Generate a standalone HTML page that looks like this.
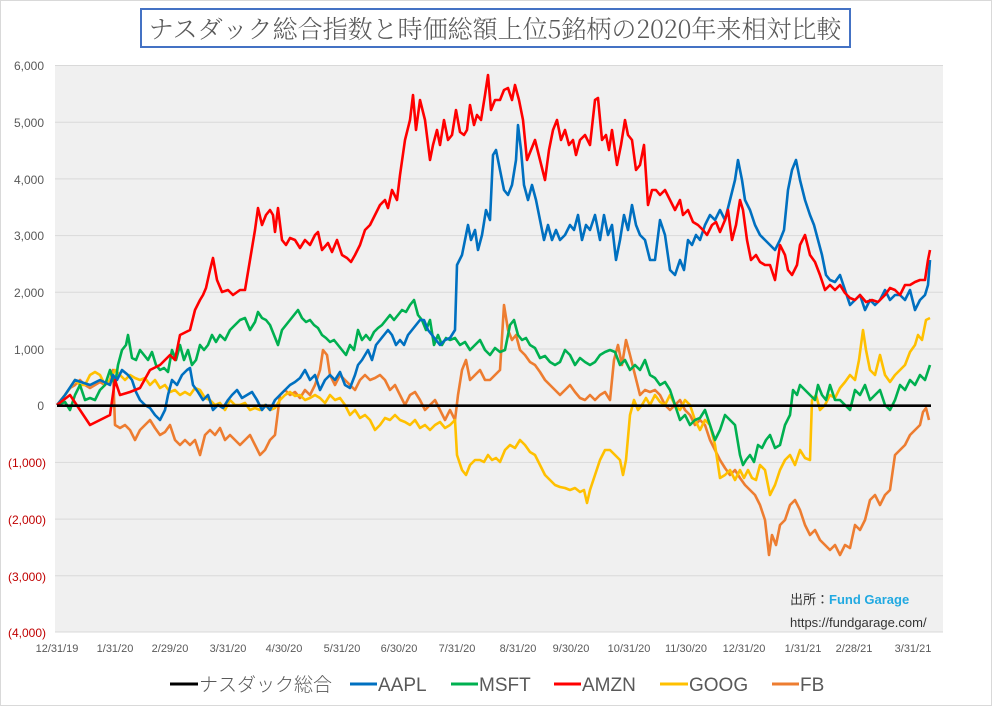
<!DOCTYPE html>
<html><head><meta charset="utf-8"><style>
body{margin:0;background:#fff;}
svg text{font-family:"Liberation Sans","Noto Sans CJK JP",sans-serif;}
</style></head><body>
<svg width="992" height="706" viewBox="0 0 992 706" xmlns="http://www.w3.org/2000/svg">
<rect x="0.5" y="0.5" width="991" height="705" fill="#fff" stroke="#d9d9d9"/>
<rect x="141" y="9" width="709" height="38" fill="#fff" stroke="#4472c4" stroke-width="2"/>
<text x="495" y="38" text-anchor="middle" font-size="25" fill="#595959" style="font-family:'Noto Serif CJK SC','Liberation Serif',serif;font-weight:300">ナスダック総合指数と時価総額上位5銘柄の2020年来相対比較</text>
<rect x="55" y="65" width="888" height="567" fill="#f0f0f0"/>
<g stroke="#d9d9d9" stroke-width="1">
<line x1="55" x2="943" y1="65.5" y2="65.5"/><line x1="55" x2="943" y1="122.2" y2="122.2"/><line x1="55" x2="943" y1="178.9" y2="178.9"/><line x1="55" x2="943" y1="235.6" y2="235.6"/><line x1="55" x2="943" y1="292.3" y2="292.3"/><line x1="55" x2="943" y1="349" y2="349"/><line x1="55" x2="943" y1="462.4" y2="462.4"/><line x1="55" x2="943" y1="519.1" y2="519.1"/><line x1="55" x2="943" y1="575.8" y2="575.8"/><line x1="55" x2="943" y1="632" y2="632"/>
</g>
<g font-size="12" fill="#595959" text-anchor="end">
<text x="44" y="70">6,000</text><text x="44" y="127">5,000</text><text x="44" y="184">4,000</text><text x="44" y="240">3,000</text><text x="44" y="297">2,000</text><text x="44" y="354">1,000</text><text x="44" y="410">0</text>
</g>
<g font-size="12" fill="#c00000" text-anchor="end">
<text x="46" y="467">(1,000)</text><text x="46" y="524">(2,000)</text><text x="46" y="581">(3,000)</text><text x="46" y="637">(4,000)</text>
</g>
<g font-size="11" fill="#595959" text-anchor="middle">
<text x="57" y="652">12/31/19</text><text x="115" y="652">1/31/20</text><text x="170" y="652">2/29/20</text><text x="228" y="652">3/31/20</text><text x="284" y="652">4/30/20</text><text x="342" y="652">5/31/20</text><text x="399" y="652">6/30/20</text><text x="457" y="652">7/31/20</text><text x="518" y="652">8/31/20</text><text x="571" y="652">9/30/20</text><text x="629" y="652">10/31/20</text><text x="686" y="652">11/30/20</text><text x="744" y="652">12/31/20</text><text x="803" y="652">1/31/21</text><text x="854" y="652">2/28/21</text><text x="913" y="652">3/31/21</text>
</g>
<g fill="none" stroke-width="2.6" stroke-linejoin="round">
<polyline stroke="#ed7d31" points="57,405 65,395 70,388 75,385 80,380 85,385 90,388 95,385 100,382 105,385 110,380 113,370 115,425 120,428 125,425 130,430 135,440 140,430 145,425 150,420 155,428 160,435 165,432 170,425 175,440 180,445 185,440 190,445 195,440 200,455 205,435 210,430 215,435 220,428 225,440 230,435 235,440 240,445 245,440 250,435 255,445 260,455 265,450 270,440 275,435 280,395 285,390 290,395 295,392 300,398 305,390 310,395 315,385 320,370 323,350 327,355 330,375 335,385 340,375 345,380 350,385 355,390 360,380 365,375 370,380 375,378 380,375 385,380 390,390 395,385 400,395 405,405 410,395 415,392 420,400 425,410 430,405 435,400 440,410 445,420 450,410 455,420 458,395 462,370 466,360 470,380 475,375 480,370 485,380 490,380 495,375 500,370 504,305 508,330 512,340 516,335 520,350 525,355 530,362 535,365 540,372 545,380 550,385 555,390 560,395 565,390 570,385 575,392 580,398 585,400 590,395 595,400 600,395 605,392 610,400 614,360 618,345 622,365 626,340 630,355 635,375 640,395 645,390 650,392 655,390 660,395 665,405 670,410 675,405 680,400 685,410 690,415 695,425 700,420 705,425 710,440 715,450 720,460 725,468 730,475 735,470 740,478 745,485 750,490 755,495 760,505 765,520 769,555 772,535 776,545 780,525 785,520 790,505 795,500 800,510 805,525 810,535 815,530 820,540 825,545 830,550 835,545 840,555 845,545 850,548 855,525 860,530 865,520 870,500 875,495 880,505 885,495 890,490 895,455 900,450 905,445 910,435 915,430 920,425 923,412 926,408 929,420"/>
<polyline stroke="#ffc000" points="57,405 65,395 70,388 75,380 80,385 85,385 90,375 95,372 100,375 105,385 110,380 115,370 120,375 125,380 130,375 135,378 140,380 145,378 150,385 155,380 160,388 165,385 170,392 175,390 180,395 185,392 190,395 195,388 200,390 205,398 210,400 215,405 220,403 225,410 230,400 235,405 240,405 245,403 250,410 255,408 260,410 265,405 270,410 275,408 280,400 285,395 290,392 295,396 300,395 305,400 310,398 315,395 320,398 325,403 330,395 335,400 340,398 345,405 350,415 355,410 360,418 365,415 370,420 375,430 380,425 385,418 390,420 395,415 400,420 405,422 410,425 415,420 420,428 425,425 430,430 435,425 440,422 445,428 450,425 455,420 457,455 462,470 466,475 470,465 475,460 480,460 484,462 488,455 492,460 496,458 500,462 505,450 510,445 515,448 520,440 525,445 530,452 535,455 540,465 545,475 550,480 555,485 560,487 565,488 570,490 575,488 580,492 584,490 587,503 590,490 595,475 600,460 605,450 610,450 615,455 620,460 623,475 626,460 630,415 634,400 638,410 642,405 646,398 650,405 655,395 660,402 665,405 670,395 675,405 680,410 685,400 690,405 695,420 700,430 705,420 710,425 715,445 720,478 725,475 730,470 735,480 740,470 744,478 748,470 752,478 756,480 760,465 765,470 770,495 775,485 780,470 785,460 790,455 795,465 800,450 805,458 810,460 812,400 816,395 820,410 825,405 830,395 835,398 840,388 845,382 850,375 855,380 859,360 863,330 866,350 870,370 875,375 880,355 885,375 890,382 895,375 900,370 905,365 910,352 915,345 918,335 922,340 926,320 930,318"/>
<polyline stroke="#00b050" points="57,405 65,402 70,410 75,395 80,385 85,400 90,398 95,400 100,390 105,385 110,370 115,385 118,365 122,350 126,345 128,335 132,358 136,360 140,350 144,355 148,360 152,352 156,365 160,370 164,368 168,372 172,350 176,360 180,345 184,360 188,350 192,365 196,360 200,345 204,350 208,345 212,335 216,342 220,335 225,340 230,330 235,325 240,320 245,318 250,330 255,322 258,312 262,318 266,320 270,325 274,335 278,345 282,330 286,325 290,320 294,315 298,310 302,318 306,322 310,320 314,325 318,328 322,335 326,338 330,342 334,340 338,345 342,350 346,355 350,345 354,350 358,330 362,340 366,335 370,340 374,332 378,328 382,325 386,320 390,315 394,320 398,315 402,310 406,312 410,305 414,300 418,315 422,320 426,330 430,320 434,345 438,335 442,345 446,338 450,340 455,338 460,345 465,342 470,350 475,345 480,340 485,350 490,355 495,348 500,352 505,350 510,325 514,320 518,335 522,340 526,338 530,345 535,348 540,358 545,356 550,362 555,365 560,362 565,350 570,355 575,365 580,358 585,362 590,365 595,362 600,355 605,352 610,350 615,352 620,365 625,360 630,370 635,365 640,370 645,360 650,375 655,378 660,385 665,382 670,390 675,405 680,420 685,415 690,425 695,420 700,418 705,410 710,425 715,440 720,430 725,415 730,420 735,425 740,455 743,465 746,460 750,455 754,462 758,445 762,448 766,440 770,435 775,448 780,445 785,425 790,415 793,390 797,395 800,385 805,390 810,395 815,400 818,385 822,395 826,400 830,385 835,400 840,400 845,405 850,410 855,390 860,395 865,385 870,400 875,395 880,390 885,405 890,410 895,400 900,385 905,390 910,380 915,385 920,375 925,380 930,365"/>
<polyline stroke="#0070c0" points="57,405 65,395 75,380 90,385 100,380 110,385 113,375 117,380 122,370 128,375 132,380 136,392 140,400 145,405 150,408 155,415 160,420 165,410 168,395 172,380 177,385 182,375 187,370 190,368 193,385 198,392 203,400 208,395 213,410 218,405 223,408 228,400 232,395 237,390 242,398 247,395 252,392 257,400 262,410 266,405 270,410 275,400 280,395 285,390 290,385 295,382 300,378 305,370 310,380 315,375 320,390 325,380 330,375 335,380 340,372 345,385 350,388 355,375 358,365 362,360 368,350 372,360 376,345 380,340 384,335 388,330 392,335 396,345 400,340 404,345 408,335 412,330 416,325 420,320 424,320 428,330 432,335 436,340 440,345 445,340 450,338 455,330 457,265 462,255 465,240 468,225 471,240 475,230 478,250 482,235 486,210 490,220 493,155 496,150 500,170 504,190 508,195 512,185 516,160 518,125 521,150 524,185 528,200 532,185 536,200 540,220 544,240 548,225 552,240 556,230 560,240 565,235 570,225 574,230 578,215 582,240 586,225 590,230 595,215 600,240 604,215 608,235 612,225 616,260 620,240 624,215 628,230 632,205 636,225 640,235 645,240 650,260 655,260 660,220 665,235 670,270 675,275 680,260 684,270 688,240 692,245 696,235 700,240 705,225 710,215 715,220 720,210 725,220 730,200 735,180 738,160 742,180 745,200 750,210 755,225 760,235 765,240 770,245 775,250 780,240 784,230 788,190 792,170 796,160 800,180 805,200 810,215 814,225 818,240 822,255 826,275 830,280 835,282 840,275 845,290 850,305 855,300 860,295 865,310 870,300 875,305 880,300 885,290 890,300 895,295 900,295 905,300 910,290 915,310 920,300 925,295 928,285 930,260"/>
<polyline stroke="#ff0000" points="57,405 70,395 80,410 90,425 100,420 110,415 115,380 120,395 130,392 140,388 150,370 160,365 170,355 175,360 180,335 190,330 195,310 200,300 203,295 206,288 210,270 213,258 217,280 222,292 228,290 233,295 240,290 245,290 250,260 255,230 258,208 262,225 266,215 270,210 273,215 275,232 278,208 282,240 286,245 290,238 295,240 300,248 305,240 310,245 315,235 318,232 322,250 328,243 332,252 337,240 342,255 347,258 351,262 355,255 360,245 365,230 370,225 375,215 380,205 385,200 388,208 392,190 397,200 400,175 405,140 410,120 413,95 416,130 420,100 425,120 430,160 433,145 437,130 440,145 444,120 448,140 452,135 456,110 460,132 464,135 467,130 470,105 474,125 477,115 481,120 485,95 488,75 491,110 495,100 500,100 504,90 508,88 512,100 515,85 519,100 523,120 527,160 531,150 535,140 540,160 545,180 549,150 553,130 557,120 561,140 565,130 569,145 573,140 576,155 580,140 585,135 590,145 595,100 598,98 602,140 606,135 609,150 612,130 617,165 621,145 625,120 628,135 632,140 636,170 640,165 644,145 648,205 652,190 656,190 660,195 665,190 670,200 675,210 680,200 683,215 688,210 693,222 698,225 703,230 707,235 712,225 716,222 720,232 725,220 728,210 732,240 736,225 740,200 743,210 747,240 751,260 756,255 760,262 765,265 770,265 775,280 780,245 785,255 788,270 792,275 797,265 800,245 805,235 810,255 815,262 820,275 825,290 830,285 835,290 840,285 845,293 850,298 855,300 860,295 866,302 872,300 878,302 885,295 890,288 895,290 900,295 905,285 910,285 915,282 920,280 925,280 928,260 930,250"/>
<line x1="57" y1="405.7" x2="931" y2="405.7" stroke="#000" stroke-width="2.6"/>
</g>
<text x="790" y="604" font-size="13" fill="#333">出所：<tspan fill="#21a9e1" font-weight="bold">Fund Garage</tspan></text>
<text x="790" y="627" font-size="13" fill="#333">https://fundgarage.com/</text>
<g font-size="19" fill="#595959" style="font-family:'Liberation Serif','Noto Serif CJK JP',serif;font-weight:300">
<line x1="170" y1="684" x2="198" y2="684" stroke="#000" stroke-width="3"/><text x="199" y="691">ナスダック総合</text>
<line x1="350" y1="684" x2="377" y2="684" stroke="#0070c0" stroke-width="3"/><text x="378" y="691">AAPL</text>
<line x1="451" y1="684" x2="478" y2="684" stroke="#00b050" stroke-width="3"/><text x="479" y="691">MSFT</text>
<line x1="554" y1="684" x2="581" y2="684" stroke="#ff0000" stroke-width="3"/><text x="582" y="691">AMZN</text>
<line x1="660" y1="684" x2="688" y2="684" stroke="#ffc000" stroke-width="3"/><text x="689" y="691">GOOG</text>
<line x1="772" y1="684" x2="799" y2="684" stroke="#ed7d31" stroke-width="3"/><text x="800" y="691">FB</text>
</g>
</svg>
</body></html>
